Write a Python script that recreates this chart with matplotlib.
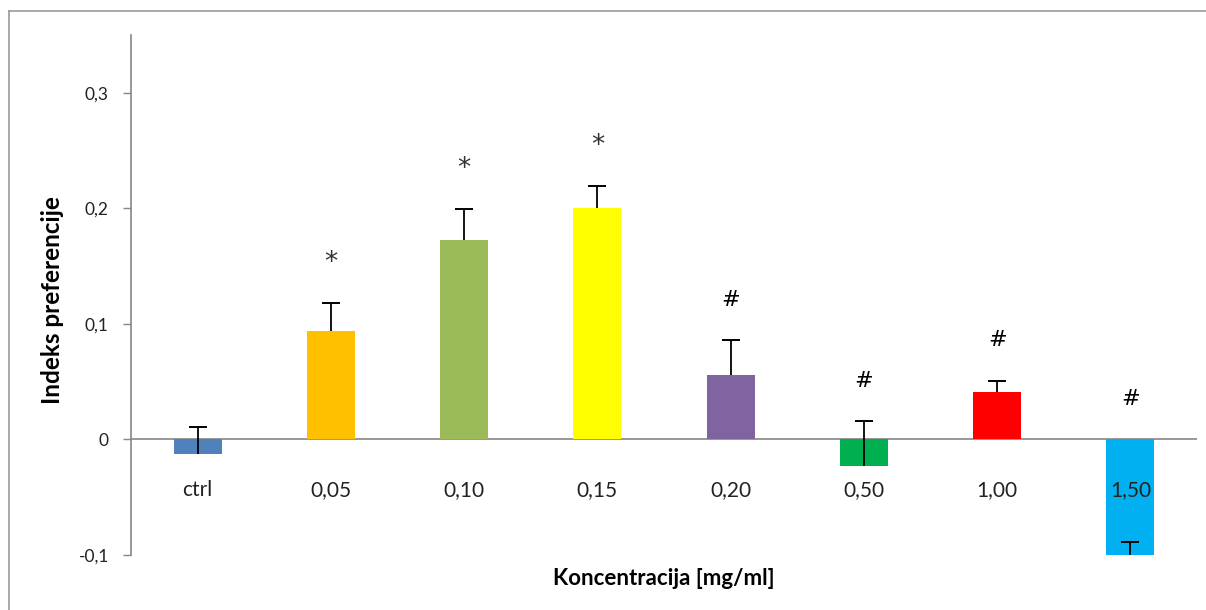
import matplotlib.pyplot as plt
from matplotlib.lines import Line2D

plt.rcParams['font.family'] = ['Lato', 'DejaVu Sans']

categories = ['ctrl', '0,05', '0,10', '0,15', '0,20', '0,50', '1,00', '1,50']
values = [-0.013, 0.094, 0.173, 0.200, 0.056, -0.023, 0.041, -0.102]
errors = [0.024, 0.024, 0.026, 0.019, 0.030, 0.039, 0.010, 0.013]
marks = ['', '*', '*', '*', '#', '#', '#', '#']
colors = ['#4F81BD', '#FFC000', '#9BBB59', '#FFFF00', '#8064A2', '#00B050', '#FF0000', '#00B0F0']
yticks = [-0.1, 0, 0.1, 0.2, 0.3]
ytick_labels = ['-0,1', '0', '0,1', '0,2', '0,3']

fig = plt.figure(figsize=(12.06, 6.10), dpi=100)
ax = fig.add_axes([131/1206, 1 - 555/610, (1197 - 131)/1206, (555 - 35)/610])

x = list(range(len(categories)))
tops = [v + e for v, e in zip(values, errors)]
ax.bar(x, values, width=0.36, color=colors, zorder=2)
# error bar: line from the bar value up, cap only at the top
ax.vlines(x, values, tops, color='black', linewidth=1.3, zorder=3)
ax.plot(x, tops, linestyle='none', marker='_', markersize=13, markeredgewidth=1.4,
        color='black', zorder=3)

ax.axhline(0, color='#868686', linewidth=1.2, zorder=1)

for i in x:
    top = max(tops[i], 0)
    if marks[i] == '*':
        ax.text(i, top + 0.035, '*', ha='center', va='center', fontsize=19, color='#333333',
                family='DejaVu Sans')
    elif marks[i] == '#':
        ax.text(i, top + 0.035, '#', ha='center', va='center', fontsize=16, color='black',
                family='DejaVu Sans')

# category labels below the zero line
for i in x:
    ax.text(i, -0.044, categories[i], ha='center', va='center', fontsize=15,
            color='#222222', zorder=4)

ax.set_xlim(-0.5, 7.5)
ax.set_ylim(-0.1, 0.35)
ax.set_xticks([])
ax.set_yticks(yticks)
ax.set_yticklabels(ytick_labels, fontsize=12.5, color='#222222')
ax.tick_params(axis='y', direction='out', length=6, width=1, color='#868686', pad=10)

for s in ['top', 'right', 'bottom']:
    ax.spines[s].set_visible(False)
ax.spines['left'].set_color('#868686')
ax.spines['left'].set_linewidth(1.2)

ax.set_xlabel('Koncentracija [mg/ml]', fontsize=16, fontweight='bold', labelpad=0)
ax.xaxis.set_label_coords(0.5, -0.025)
ax.set_ylabel('Indeks preferencije', fontsize=17.5, fontweight='bold')
ax.yaxis.set_label_coords(-0.063, 0.49)

# outer frame (top and left edges visible)
fig.add_artist(Line2D([9/1206, 1], [1 - 11/610, 1 - 11/610], color='#9a9a9a', linewidth=1.2))
fig.add_artist(Line2D([9/1206, 9/1206], [0, 1 - 11/610], color='#9a9a9a', linewidth=1.2))

fig.savefig('out.png', dpi=100)
